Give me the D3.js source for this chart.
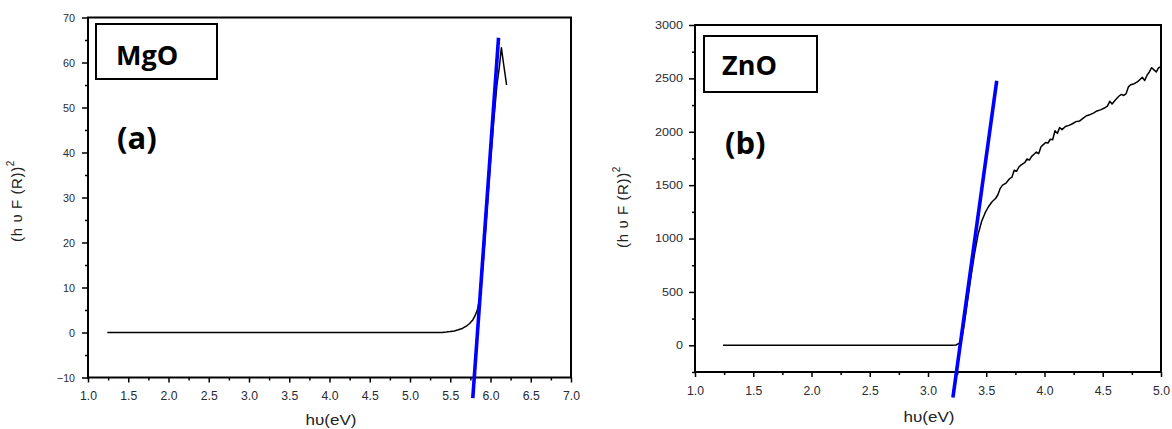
<!DOCTYPE html>
<html>
<head>
<meta charset="utf-8">
<script src="https://cdn.jsdelivr.net/npm/d3@7"></script>
<style>
  html, body { margin: 0; padding: 0; background: #fff; }
  svg { display: block; }
  .tick text { font-family: "Liberation Sans", Arial, sans-serif; fill: #2a2a33; }
  .tick line { stroke: #000; stroke-width: 1.5; }
</style>
</head>
<body>
<svg id="chart" width="1172" height="429"></svg>
<script>
// ---------- Data ----------
// Panel (a) MgO
const mgoX = [1.24, 2.0, 3.0, 4.0, 5.0, 5.40, 5.45, 5.50, 5.55, 5.60, 5.65, 5.70, 5.74, 5.78, 5.81, 5.84, 5.88, 5.92, 5.96, 6.00, 6.04, 6.08, 6.11, 6.135, 6.16, 6.18, 6.20];
const mgoY = [0, 0, 0, 0, 0, 0.02, 0.1, 0.2, 0.35, 0.6, 0.9, 1.4, 2.0, 2.8, 3.8, 5.2, 9, 18, 28, 38, 47, 55, 59, 63.3, 60, 57.5, 55];
const mgoFitX = [5.78, 6.10];
const mgoFitY = [-14.6, 65.5];
const mgoXTicks = [1.0, 1.5, 2.0, 2.5, 3.0, 3.5, 4.0, 4.5, 5.0, 5.5, 6.0, 6.5, 7.0];
const mgoXMinor = [1.25, 1.75, 2.25, 2.75, 3.25, 3.75, 4.25, 4.75, 5.25, 5.75, 6.25, 6.75];
const mgoYTicks = [-10, 0, 10, 20, 30, 40, 50, 60, 70];
const mgoYMinor = [-5, 5, 15, 25, 35, 45, 55, 65];

// Panel (b) ZnO
const znoX = [1.24, 2.0, 2.5, 3.0, 3.20, 3.24, 3.27, 3.29, 3.31, 3.34, 3.37, 3.40, 3.43, 3.46, 3.49, 3.52, 3.55, 3.58, 3.60, 3.62, 3.64, 3.67, 3.70, 3.72, 3.74, 3.76, 3.78, 3.80, 3.83, 3.85, 3.87, 3.89, 3.91, 3.93, 3.95, 3.97, 3.99, 4.01, 4.03, 4.05, 4.07, 4.09, 4.11, 4.13, 4.15, 4.18, 4.21, 4.24, 4.27, 4.30, 4.33, 4.36, 4.39, 4.42, 4.45, 4.48, 4.51, 4.54, 4.56, 4.58, 4.61, 4.64, 4.66, 4.68, 4.70, 4.72, 4.74, 4.77, 4.80, 4.82, 4.84, 4.86, 4.88, 4.90, 4.92, 4.94, 4.96, 4.98, 5.00];
const znoY = [0, 0, 0, 0, 0, 3, 20, 60, 190, 420, 650, 860, 1040, 1160, 1240, 1300, 1345, 1375, 1410, 1470, 1500, 1520, 1560, 1575, 1640, 1630, 1670, 1690, 1710, 1745, 1735, 1770, 1790, 1810, 1795, 1860, 1880, 1900, 1895, 1930, 1925, 2010, 1985, 2040, 2020, 2050, 2060, 2075, 2095, 2100, 2125, 2150, 2160, 2175, 2195, 2205, 2220, 2240, 2285, 2260, 2300, 2335, 2350, 2340, 2355, 2420, 2440, 2450, 2470, 2490, 2510, 2480, 2530, 2560, 2600, 2580, 2560, 2600, 2610];
const znoFitX = [3.214, 3.59];
const znoFitY = [-489, 2477];
const znoXTicks = [1.0, 1.5, 2.0, 2.5, 3.0, 3.5, 4.0, 4.5, 5.0];
const znoXMinor = [1.25, 1.75, 2.25, 2.75, 3.25, 3.75, 4.25, 4.75];
const znoYTicks = [0, 500, 1000, 1500, 2000, 2500, 3000];
const znoYMinor = [-250, 250, 750, 1250, 1750, 2250, 2750];

// ---------- Drawing ----------
const svg = d3.select("#chart");

function panel(cfg) {
  const g = svg.append("g");
  const x = d3.scaleLinear().domain(cfg.xDomain).range([cfg.l, cfg.r]);
  const y = d3.scaleLinear().domain(cfg.yDomain).range([cfg.b, cfg.t]);

  // minor ticks
  g.append("g").attr("transform", `translate(0,${cfg.b})`)
    .call(d3.axisBottom(x).tickValues(cfg.xMinor).tickSize(3).tickFormat(""))
    .call(s => s.select(".domain").remove());
  g.append("g").attr("transform", `translate(${cfg.l},0)`)
    .call(d3.axisLeft(y).tickValues(cfg.yMinor).tickSize(3).tickFormat(""))
    .call(s => s.select(".domain").remove());

  // major ticks
  const xa = g.append("g").attr("transform", `translate(0,${cfg.b})`)
    .call(d3.axisBottom(x).tickValues(cfg.xTicks).tickSize(5).tickPadding(9).tickFormat(d3.format(".1f")))
    .call(s => s.select(".domain").remove());
  xa.selectAll("text").attr("font-size", 12.5)
    .attr("textLength", 17).attr("lengthAdjust", "spacingAndGlyphs");

  const ya = g.append("g").attr("transform", `translate(${cfg.l},0)`)
    .call(d3.axisLeft(y).tickValues(cfg.yTicks).tickSize(6).tickPadding(cfg.yPad).tickFormat(d3.format("d")))
    .call(s => s.select(".domain").remove());
  ya.selectAll("text").attr("font-size", cfg.yFont)
    .each(function(d) {
      const t = String(d);
      d3.select(this).attr("textLength", t.length * cfg.yCharW).attr("lengthAdjust", "spacingAndGlyphs");
    });

  // frame
  g.append("rect")
    .attr("x", cfg.l).attr("y", cfg.t)
    .attr("width", cfg.r - cfg.l).attr("height", cfg.b - cfg.t)
    .attr("fill", "none").attr("stroke", "#000").attr("stroke-width", 2);

  // data curve
  const line = d3.line().x(d => x(d[0])).y(d => y(d[1]));
  g.append("path")
    .datum(cfg.dataX.map((v, i) => [v, cfg.dataY[i]]))
    .attr("d", line)
    .attr("fill", "none").attr("stroke", "#000").attr("stroke-width", 1.5)
    .attr("stroke-linejoin", "round");

  // linear fit
  g.append("path")
    .datum(cfg.fitX.map((v, i) => [v, cfg.fitY[i]]))
    .attr("d", line)
    .attr("fill", "none").attr("stroke", "#0000ff").attr("stroke-width", 3.6);

  // label box
  g.append("rect")
    .attr("x", cfg.box[0]).attr("y", cfg.box[1])
    .attr("width", cfg.box[2]).attr("height", cfg.box[3])
    .attr("fill", "#fff").attr("stroke", "#000").attr("stroke-width", 2);
  g.append("text")
    .attr("x", cfg.nameX).attr("y", cfg.nameY)
    .attr("font-family", "'Open Sans', sans-serif").attr("font-weight", 700)
    .attr("font-size", 27).attr("fill", "#000")
    .text(cfg.name);
  g.append("text")
    .attr("x", cfg.tagX).attr("y", cfg.tagY)
    .attr("font-family", "'Open Sans', sans-serif").attr("font-weight", 700)
    .attr("font-size", 31).attr("fill", "#000")
    .text(cfg.tag);

  // axis titles
  g.append("text")
    .attr("x", cfg.xtX).attr("y", cfg.xtY)
    .attr("text-anchor", "middle")
    .attr("font-family", "'Liberation Sans', Arial, sans-serif")
    .attr("font-size", 14.5).attr("fill", "#222")
    .attr("textLength", 51).attr("lengthAdjust", "spacingAndGlyphs")
    .text("h\u03C5(eV)");

  const yt = g.append("text")
    .attr("transform", `translate(${cfg.ytX},${cfg.ytY}) rotate(-90)`)
    .attr("text-anchor", "middle")
    .attr("font-family", "'Liberation Sans', Arial, sans-serif")
    .attr("font-size", 15).attr("fill", "#222")
    .attr("letter-spacing", 0.6);
  yt.append("tspan").text("(h \u03C5  F (R))");
  yt.append("tspan").attr("dy", -8).attr("font-size", 10).text("2");
}

panel({
  l: 88, r: 571, t: 17.5, b: 377.5,
  xDomain: [1, 7], yDomain: [-10, 70],
  xTicks: mgoXTicks, xMinor: mgoXMinor, yTicks: mgoYTicks, yMinor: mgoYMinor,
  yPad: 7, yFont: 11, yCharW: 6,
  dataX: mgoX, dataY: mgoY, fitX: mgoFitX, fitY: mgoFitY,
  box: [96, 24, 121, 55], name: "MgO", nameX: 116, nameY: 65,
  tag: "(a)", tagX: 117, tagY: 149,
  xtX: 331, xtY: 425, ytX: 22, ytY: 201
});

panel({
  l: 695, r: 1161, t: 25, b: 372,
  xDomain: [1, 5], yDomain: [-250, 3000],
  xTicks: znoXTicks, xMinor: znoXMinor, yTicks: znoYTicks, yMinor: znoYMinor,
  yPad: 6, yFont: 10.5, yCharW: 7,
  dataX: znoX, dataY: znoY, fitX: znoFitX, fitY: znoFitY,
  box: [704, 36, 113, 56], name: "ZnO", nameX: 722, nameY: 75,
  tag: "(b)", tagX: 725, tagY: 154,
  xtX: 929, xtY: 422, ytX: 628, ytY: 207
});
</script>
</body>
</html>
